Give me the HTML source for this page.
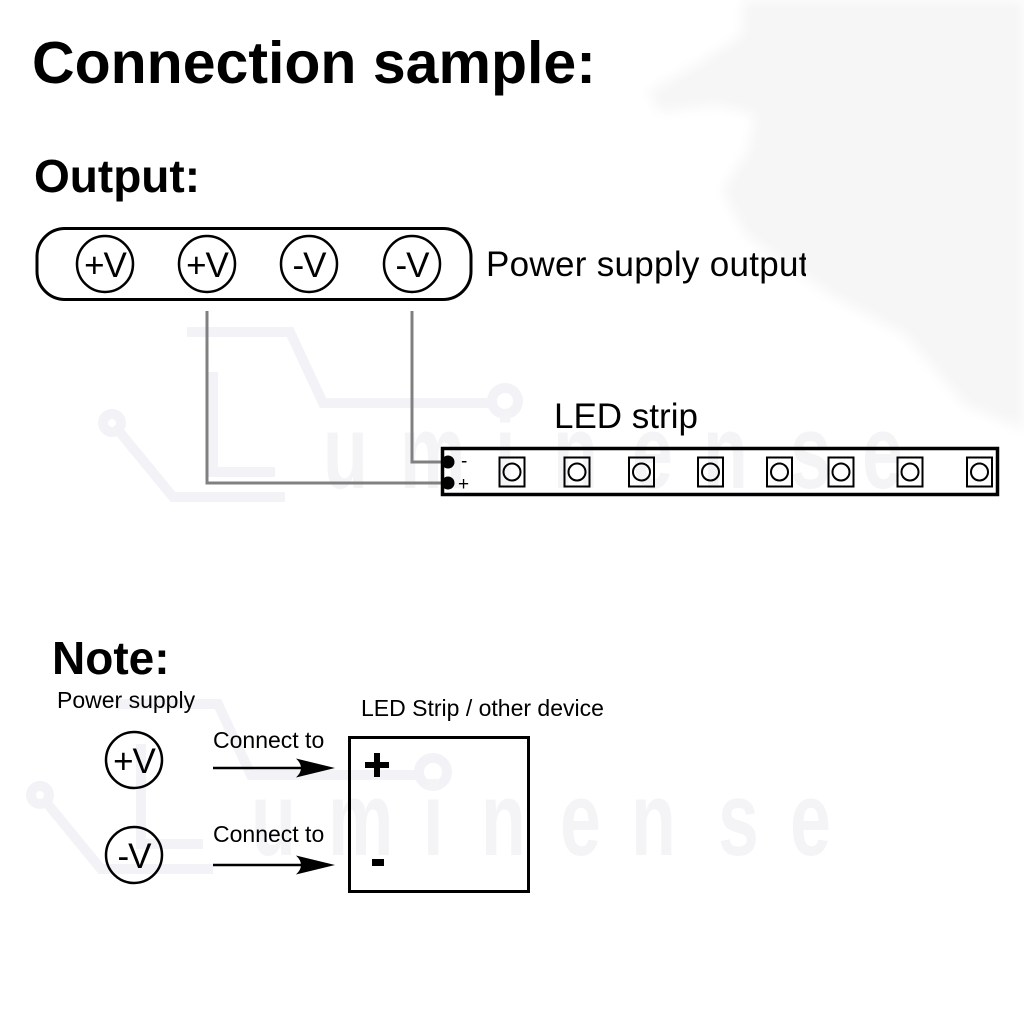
<!DOCTYPE html>
<html>
<head>
<meta charset="utf-8">
<style>
html,body{margin:0;padding:0;background:#fff;}
svg{display:block;}
</style>
</head>
<body>
<svg width="1024" height="1024" viewBox="0 0 1024 1024" xmlns="http://www.w3.org/2000/svg">
<defs>
<filter id="blur" x="-20%" y="-20%" width="140%" height="140%"><feGaussianBlur stdDeviation="6"/></filter>
<clipPath id="clipT"><rect x="0" y="0" width="806" height="1024"/></clipPath>
</defs>
<rect width="1024" height="1024" fill="#fff"/>

<!-- background blob top-right -->
<path d="M743 0 L1024 0 L1024 430 L965 405 L905 335 L830 295 L745 235 L722 190 L748 150 L755 115 L715 105 L660 112 L648 92 L700 62 L742 35 Z" fill="#f6f6f6" filter="url(#blur)"/>

<!-- watermark logo (top) -->
<g fill="none" stroke="#f3f3f7" stroke-width="10" stroke-linecap="square">
<polyline points="192,332 290,332 323,403 490,403"/>
<circle cx="505" cy="401" r="13"/>
<polyline points="213,377 213,472 270,472"/>
<polyline points="118,430 173,497 280,497"/>
<circle cx="112" cy="423" r="9"/>
</g>
<g fill="#f4f4f7" font-family="Liberation Sans, sans-serif" font-weight="bold" font-size="105">
<text transform="translate(323,488) scale(0.7,1)">u</text>
<text transform="translate(400,488) scale(0.7,1)">m</text>
<text transform="translate(495,488) scale(0.7,1)">i</text>
<text transform="translate(553,488) scale(0.7,1)">n</text>
<text transform="translate(632,488) scale(0.7,1)">e</text>
<text transform="translate(703,488) scale(0.7,1)">n</text>
<text transform="translate(790,488) scale(0.7,1)">s</text>
<text transform="translate(862,488) scale(0.7,1)">e</text>
</g>

<!-- watermark logo (bottom) -->
<g fill="none" stroke="#f3f3f7" stroke-width="10" stroke-linecap="square">
<polyline points="120,704 218,704 251,775 418,775"/>
<circle cx="433" cy="772" r="14"/>
<polyline points="141,749 141,844 198,844"/>
<polyline points="46,802 101,869 208,869"/>
<circle cx="40" cy="795" r="9"/>
</g>
<g fill="#f4f4f7" font-family="Liberation Sans, sans-serif" font-weight="bold" font-size="105">
<text transform="translate(251,855) scale(0.7,1)">u</text>
<text transform="translate(328,855) scale(0.7,1)">m</text>
<text transform="translate(423,855) scale(0.7,1)">i</text>
<text transform="translate(481,855) scale(0.7,1)">n</text>
<text transform="translate(560,855) scale(0.7,1)">e</text>
<text transform="translate(631,855) scale(0.7,1)">n</text>
<text transform="translate(718,855) scale(0.7,1)">s</text>
<text transform="translate(790,855) scale(0.7,1)">e</text>
</g>

<!-- titles -->
<text x="32" y="83" font-family="Liberation Sans, sans-serif" font-weight="bold" font-size="59" fill="#000">Connection sample:</text>
<text x="34" y="192" font-family="Liberation Sans, sans-serif" font-weight="bold" font-size="46" fill="#000">Output:</text>

<!-- power supply terminal block -->
<rect x="37" y="228.5" width="434" height="71" rx="28" ry="28" fill="none" stroke="#000" stroke-width="3"/>
<g fill="none" stroke="#000" stroke-width="2.5">
<circle cx="105" cy="264" r="28"/>
<circle cx="207" cy="264" r="28"/>
<circle cx="309" cy="264" r="28"/>
<circle cx="412" cy="264" r="28"/>
</g>
<g font-family="Liberation Sans, sans-serif" font-size="35" fill="#000" text-anchor="middle" letter-spacing="-1">
<text x="105" y="277">+V</text>
<text x="207" y="277">+V</text>
<text x="309" y="277">-V</text>
<text x="412" y="277">-V</text>
</g>
<text x="486" y="276" font-family="Liberation Sans, sans-serif" font-size="35" fill="#000" letter-spacing="0.3" clip-path="url(#clipT)">Power supply output</text>

<!-- wires -->
<g fill="none" stroke="#808080" stroke-width="3">
<path d="M207 311 V483 H444"/>
<path d="M412 311 V462 H444"/>
</g>

<!-- LED strip -->
<text x="554" y="428" font-family="Liberation Sans, sans-serif" font-size="35" fill="#000">LED strip</text>
<rect x="442.5" y="448.5" width="555" height="46" fill="none" stroke="#000" stroke-width="3.5"/>
<circle cx="448" cy="462" r="6.5" fill="#000"/>
<circle cx="448" cy="483" r="6.5" fill="#000"/>
<text x="461" y="467" font-family="Liberation Sans, sans-serif" font-size="19" fill="#000">-</text>
<text x="458" y="490" font-family="Liberation Sans, sans-serif" font-size="19" fill="#000">+</text>
<g fill="none" stroke="#000" stroke-width="2">
<rect x="499.5" y="457.5" width="25" height="29"/><circle cx="512" cy="472" r="8.5"/>
<rect x="564.5" y="457.5" width="25" height="29"/><circle cx="577" cy="472" r="8.5"/>
<rect x="629" y="457.5" width="25" height="29"/><circle cx="641.5" cy="472" r="8.5"/>
<rect x="698" y="457.5" width="25" height="29"/><circle cx="710.5" cy="472" r="8.5"/>
<rect x="767" y="457.5" width="25" height="29"/><circle cx="779.5" cy="472" r="8.5"/>
<rect x="828.5" y="457.5" width="25" height="29"/><circle cx="841" cy="472" r="8.5"/>
<rect x="897.5" y="457.5" width="25" height="29"/><circle cx="910" cy="472" r="8.5"/>
<rect x="967" y="457.5" width="25" height="29"/><circle cx="979.5" cy="472" r="8.5"/>
</g>

<!-- Note section -->
<text x="52" y="674" font-family="Liberation Sans, sans-serif" font-weight="bold" font-size="46" fill="#000">Note:</text>
<text x="57" y="708" font-family="Liberation Sans, sans-serif" font-size="23" fill="#000">Power supply</text>
<g fill="none" stroke="#000" stroke-width="2.5">
<circle cx="134" cy="760" r="28"/>
<circle cx="134" cy="855" r="28"/>
</g>
<g font-family="Liberation Sans, sans-serif" font-size="35" fill="#000" text-anchor="middle" letter-spacing="-1">
<text x="134" y="773">+V</text>
<text x="134" y="868">-V</text>
</g>
<g font-family="Liberation Sans, sans-serif" font-size="23" fill="#000">
<text x="213" y="748">Connect to</text>
<text x="213" y="842">Connect to</text>
<text x="361" y="716">LED Strip / other device</text>
</g>
<!-- arrows -->
<g stroke="#000" stroke-width="2.5">
<line x1="213" y1="768" x2="305" y2="768"/>
<line x1="213" y1="865" x2="305" y2="865"/>
</g>
<path d="M335 768 L296 758.5 Q306 768 296 777.5 Z" fill="#000"/>
<path d="M335 865 L296 855.5 Q306 865 296 874.5 Z" fill="#000"/>
<!-- device box -->
<rect x="349.5" y="737.5" width="179" height="154" fill="none" stroke="#000" stroke-width="3"/>
<rect x="365" y="762" width="24" height="6" fill="#000"/>
<rect x="374" y="753" width="6" height="24" fill="#000"/>
<rect x="372" y="859" width="12" height="7" fill="#000"/>
</svg>
</body>
</html>
